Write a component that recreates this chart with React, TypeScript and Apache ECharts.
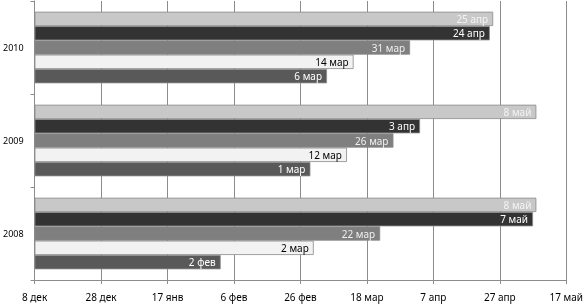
import React, { useEffect, useRef } from "react";
import * as echarts from "echarts";

const categories = ["2008", "2009", "2010"];
// Dates as "MM-DD", per year (2008, 2009, 2010); series listed top to bottom within a group
const seriesE = ["05-08", "05-08", "04-25"];
const seriesD = ["05-07", "04-03", "04-24"];
const seriesC = ["03-22", "03-26", "03-31"];
const seriesB = ["03-02", "03-12", "03-14"];
const seriesA = ["02-02", "03-01", "03-06"];
const colors = ["#c8c8c8", "#333333", "#7f7f7f", "#f2f2f2", "#595959"];
const labelColors = ["#f4f4f4", "#ffffff", "#f0f0f0", "#000000", "#ffffff"];
const monthNames = ["янв", "фев", "мар", "апр", "май", "июн", "июл", "авг", "сен", "окт", "ноя", "дек"];

const BASE = Date.UTC(2000, 11, 8);
const DAY = 86400000;
function toOffset(md: string): number {
  const [m, d] = md.split("-").map(Number);
  const y = m >= 12 ? 2000 : 2001;
  return Math.round((Date.UTC(y, m - 1, d) - BASE) / DAY);
}
function fmt(off: number): string {
  const dt = new Date(BASE + off * DAY);
  return dt.getUTCDate() + " " + monthNames[dt.getUTCMonth()];
}

export default function App() {
  const ref = useRef<HTMLDivElement>(null);
  useEffect(() => {
    if (!ref.current) return;
    const chart = echarts.init(ref.current, null, { renderer: "svg" });
    const all = [seriesE, seriesD, seriesC, seriesB, seriesA];
    const font = "Noto Sans";
    chart.setOption({
      animation: false,
      textStyle: { fontFamily: font },
      grid: { left: 32, right: 16, top: 1, bottom: 24 },
      xAxis: {
        type: "value",
        min: 0,
        max: 160,
        interval: 20,
        axisLine: { show: true, lineStyle: { color: "#8c8c8c" } },
        axisTick: { show: true, length: 4, lineStyle: { color: "#8c8c8c" } },
        splitLine: { show: true, lineStyle: { color: "#8c8c8c", width: 1 } },
        axisLabel: {
          formatter: (v: number) => fmt(v),
          color: "#000",
          fontSize: 10,
          fontFamily: font,
          margin: 12,
          showMaxLabel: true,
        },
      },
      yAxis: {
        type: "category",
        data: categories,
        axisLine: { show: true, lineStyle: { color: "#8c8c8c" } },
        axisTick: { show: true, length: 4, lineStyle: { color: "#8c8c8c" } },
        axisLabel: { color: "#000", fontSize: 9, fontFamily: font, margin: 11 },
      },
      series: all.map((arr, i) => ({
        type: "bar",
        data: arr.map(toOffset),
        barGap: "0%",
        barCategoryGap: "23%",
        itemStyle: { color: colors[i], borderColor: "#8a8a8a", borderWidth: 0.8 },
        label: {
          show: true,
          position: "insideRight",
          distance: 5,
          formatter: (p: any) => fmt(p.value),
          color: labelColors[i],
          fontSize: 10,
          fontFamily: font,
        },
      })),
    });
    return () => chart.dispose();
  }, []);
  return <div ref={ref} style={{ position: "fixed", left: 0, top: 0, width: 586, height: 304 }} />;
}
